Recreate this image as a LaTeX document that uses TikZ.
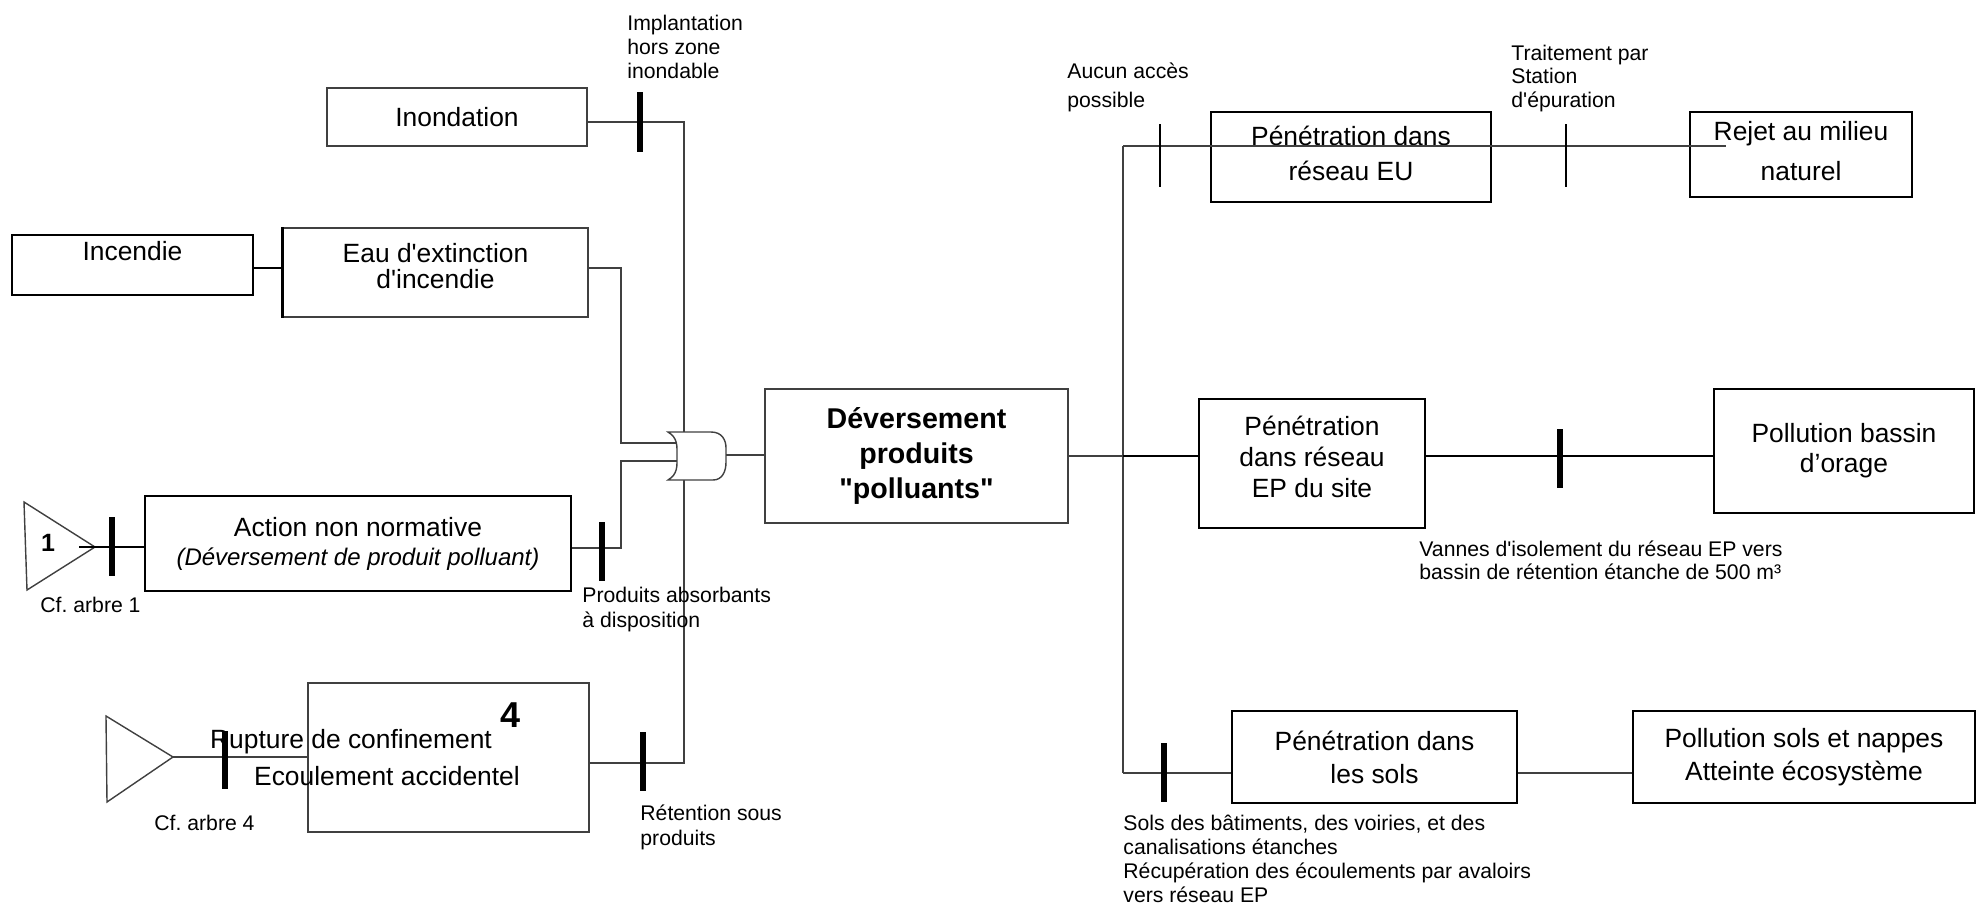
\documentclass[tikz,border=0pt]{standalone}
\usepackage{fontspec}
\setmainfont{Liberation Sans}
\usetikzlibrary{calc}
\newcommand\notefont[1]{\fontsize{10.6}{#1}\selectfont}
\newcommand\bxf[1]{\fontsize{13.2}{#1}\selectfont}
\frenchspacing
\begin{document}
\begin{tikzpicture}[x=0.5pt, y=-0.5pt,
  thinln/.style={draw=black!75, line width=0.7pt},
  thickln/.style={draw=black, line width=1.4pt},
  boxthin/.style={thinln, rectangle, inner sep=0pt, align=center},
  boxthick/.style={thickln, rectangle, inner sep=0pt, align=center},
  barthick/.style={draw=black, line width=3.4pt},
  barthin/.style={draw=black, line width=1pt},
  note/.style={anchor=north west, inner sep=0pt, align=left},
  txt/.style={inner sep=0pt, font=\bxf{16}},
]
\fill[white] (0,0) rectangle (1977,905);
\useasboundingbox (0,0) rectangle (1977,905);

% ---- causes (left part) ----
\node[boxthin, minimum width=130pt, minimum height=29pt, font=\bxf{16}] (inond) at (457,117) {Inondation};
\node[boxthick, minimum width=120.5pt, minimum height=30pt, text depth=13.6pt, font=\bxf{16}] (incendie) at (132.5,265) {Incendie};
\node[boxthin, minimum width=152.5pt, minimum height=44.5pt, text depth=7pt, font=\bxf{13}] (eau) at (435.5,272.5) {Eau d\textquotesingle extinction\\d\textquotesingle incendie};
\draw[thickln] (eau.north west) -- (eau.south west);
\node[boxthick, minimum width=213pt, minimum height=47.5pt, font=\bxf{14.5}] (action) at (358,543.5) {Action non normative\\{\fontsize{12}{14}\selectfont\itshape (Déversement de produit polluant)}};
\node[boxthin, minimum width=140.5pt, minimum height=74.5pt] (rupture) at (448.5,757.5) {};
\node[txt, anchor=base] (rupt1) at (351,748) {Rupture de confinement};
\node[txt, anchor=base] (rupt2) at (387,785) {Ecoulement accidentel};
\node[inner sep=0pt, anchor=base, font=\bfseries\fontsize{18}{20}\selectfont] (four) at (511,727) {4};

% transfer triangles
\draw[thinln] (24,502) -- (95,547) coordinate (t1) -- (27,590) -- cycle;
\node[inner sep=0pt, font=\bfseries\fontsize{12.5}{14}\selectfont] (one) at (48,543) {1};
\draw[thinln] (106,716) -- (173,757) coordinate (t2) -- (107,802) -- cycle;
\coordinate (t1in) at (79,547);

% bus points
\coordinate (jI) at (684,122);
\coordinate (jR) at (684,763);
\coordinate (jE) at (621,268);
\coordinate (jE2) at (621,443);
\coordinate (gin1) at (680,443);
\coordinate (jA) at (621,548);
\coordinate (jA2) at (621,461);
\coordinate (gin2) at (680,461);
\coordinate (gout) at (726,455);

% connectors on the left
\draw[thinln] (inond.east|-jI) -- (jI) -- (jR) -- (rupture.east|-jR);
\draw[thickln] (incendie.east|-jE) -- (eau.west|-jE);
\draw[thinln] (eau.east|-jE) -- (jE) -- (jE2) -- (gin1);
\draw[thinln] (action.east|-jA) -- (jA) -- (jA2) -- (gin2);
\draw[thickln] (t1in) -- (action.west|-t1in);
\draw[thinln] (t2) -- (rupture.west|-t2);

% OR gate
\draw[thinln, fill=white] (668,432) -- (711,432) .. controls (722,432) and (726,440) .. (726,448)
  -- (726,462) .. controls (726,472) and (722,480) .. (713,480) -- (668,480)
  .. controls (678,474) and (677,466) .. (677,456) .. controls (677,446) and (678,438) .. (668,432) -- cycle;

% barriers on the left
\draw[barthick] (640,92) -- (640,152);
\draw[barthick] (112,517) -- (112,576);
\draw[barthick] (602,522) -- (602,581);
\draw[barthick] (225,731) -- (225,789);
\draw[barthick] (643,732) -- (643,791);

% ---- central event ----
\node[boxthin, minimum width=151.5pt, minimum height=67pt, font=\bfseries\fontsize{14.3}{17.5}\selectfont] (dever) at (916.5,456) {Déversement\\produits\\\textquotedbl polluants\textquotedbl};
\draw[thinln] (gout) -- (dever.west|-gout);

% ---- consequences (right part) ----
\node[boxthick, minimum width=140pt, minimum height=45pt, text depth=4pt, font=\bxf{17.5}] (eu) at (1351,157) {Pénétration dans\\réseau EU};
\node[boxthick, minimum width=111pt, minimum height=42.5pt, text depth=4pt, font=\bxf{20}] (rejet) at (1801,154.5) {Rejet au milieu\\naturel};
\node[boxthick, minimum width=113pt, minimum height=64.5pt, text depth=7pt, font=\bxf{15.5}] (ep) at (1312,463.5) {Pénétration\\dans réseau\\EP du site};
\node[boxthick, minimum width=130pt, minimum height=62pt, font=\bxf{15}] (bassin) at (1844,451) {Pollution bassin\\d’orage};
\node[boxthick, minimum width=142.5pt, minimum height=46pt, font=\bxf{16.5}] (sols) at (1374.5,757) {Pénétration dans\\les sols};
\node[boxthick, minimum width=171pt, minimum height=46pt, font=\bxf{16.5}] (polsols) at (1804,757) {Pollution sols et nappes\\Atteinte écosystème};

\coordinate (tk1) at (1123,146);
\coordinate (tk2) at (1123,456);
\coordinate (tk3) at (1123,773);
\coordinate (euend) at (1726,146);

\draw[thinln] (dever.east|-tk2) -- (tk2);
\draw[thinln] (tk1) -- (tk3);
\draw[thinln] (tk1) -- (euend);
\draw[thickln] (tk2) -- (ep.west|-tk2);
\draw[thickln] (ep.east|-tk2) -- (bassin.west|-tk2);
\draw[thinln] (tk3) -- (sols.west|-tk3);
\draw[thinln] (sols.east|-tk3) -- (polsols.west|-tk3);

% barriers on the right
\draw[barthin] (1160,124) -- (1160,187);
\draw[barthin] (1566,124) -- (1566,187);
\draw[barthick] (1560,429) -- (1560,488);
\draw[barthick] (1164,743) -- (1164,802);

% ---- barrier notes ----
\node[note, font=\notefont{12}] (nimpl) at (627,14.5) {Implantation\\hors zone\\inondable};
\node[note, font=\notefont{14.5}] (naucun) at (1067,62.5) {Aucun accès\\possible};
\node[note, font=\notefont{11.75}] (ntrait) at (1511,44.5) {Traitement par\\Station\\d\textquotesingle épuration};
\node[note, font=\notefont{11.5}] (nvannes) at (1419,540.5) {Vannes d\textquotesingle isolement du réseau EP vers\\bassin de rétention étanche de 500 m³};
\node[note, font=\notefont{12.5}] (nabs) at (582,586.5) {Produits absorbants\\à disposition};
\node[note, font=\notefont{12}] (ncf1) at (40,596.5) {Cf. arbre 1};
\node[note, font=\notefont{12}] (ncf4) at (154,814.5) {Cf. arbre 4};
\node[note, font=\notefont{12.5}] (nret) at (640,804.5) {Rétention sous\\produits};
\node[note, font=\notefont{12}] (nsols) at (1123,814.5) {Sols des bâtiments, des voiries, et des\\canalisations étanches\\Récupération des écoulements par avaloirs\\vers réseau EP};
\end{tikzpicture}
\end{document}
